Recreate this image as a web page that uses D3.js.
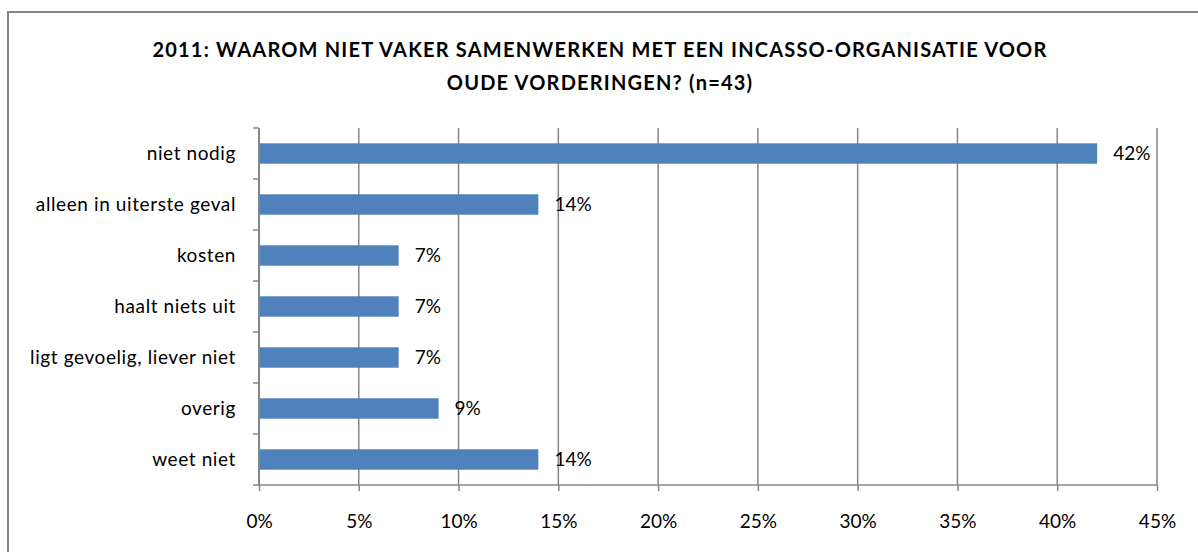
<!DOCTYPE html>
<html lang="en">
<head>
  <meta charset="UTF-8">
  <title>2011: Waarom niet vaker samenwerken</title>
  <style>
    * { margin: 0; padding: 0; box-sizing: border-box; }
    body { background: #fff; font-family: Lato, "Open Sans", sans-serif; }
  </style>
</head>
<body>
  <div id="chart"></div>
  <script src="https://d3js.org/d3.v7.min.js"></script>
  <script>
  // data
  var categories = ["niet nodig", "alleen in uiterste geval", "kosten", "haalt niets uit",
                    "ligt gevoelig, liever niet", "overig", "weet niet"];
  var values = [42, 14, 7, 7, 7, 9, 14];
  var xTicks = [0, 5, 10, 15, 20, 25, 30, 35, 40, 45];
  var titleLines = ["2011: WAAROM NIET VAKER SAMENWERKEN MET EEN INCASSO-ORGANISATIE VOOR",
                    "OUDE VORDERINGEN? (n=43)"];

  var W = 1198, H = 552;
  var margin = {top: 128, left: 259, right: W - 1157, bottom: H - 485};
  var width = W - margin.left - margin.right;
  var height = H - margin.top - margin.bottom;

  var svg = d3.select("#chart").append("svg")
    .attr("width", W).attr("height", H);

  // outer frame (runs off the right and bottom edge)
  svg.append("rect")
    .attr("x", 8).attr("y", 12)
    .attr("width", W + 20).attr("height", H + 20)
    .attr("fill", "none").attr("stroke", "#868686").attr("stroke-width", 2);

  // title
  svg.append("text")
    .attr("text-anchor", "middle")
    .style("font-size", "20px").style("font-weight", "bold").style("fill", "#000")
    .style("letter-spacing", "1.2px")
    .selectAll("tspan").data(titleLines).enter().append("tspan")
      .attr("x", 600).attr("y", function(d, i) { return 57 + i * 33; })
      .text(function(d) { return d; });

  var g = svg.append("g").attr("transform", "translate(" + margin.left + "," + margin.top + ")");

  var x = d3.scaleLinear().domain([0, 45]).range([0, width]);
  var y = d3.scaleBand().domain(categories).range([0, height]).paddingInner(0.6).paddingOuter(0.3);

  // gridlines
  g.selectAll("line.grid").data(xTicks.slice(1)).enter().append("line")
    .attr("class", "grid")
    .attr("x1", function(d) { return x(d); }).attr("x2", function(d) { return x(d); })
    .attr("y1", 0).attr("y2", height)
    .attr("stroke", "#868686").attr("stroke-width", 1.5);

  // bars
  g.selectAll("rect.bar").data(values).enter().append("rect")
    .attr("class", "bar")
    .attr("x", x(0))
    .attr("y", function(d, i) { return y(categories[i]); })
    .attr("width", function(d) { return x(d) - x(0); })
    .attr("height", y.bandwidth())
    .attr("fill", "#4f81bd");

  // value labels
  g.selectAll("text.val").data(values).enter().append("text")
    .attr("class", "val")
    .attr("x", function(d) { return x(d) + 16; })
    .attr("y", function(d, i) { return y(categories[i]) + y.bandwidth() / 2; })
    .attr("dy", "0.35em")
    .style("font-size", "19px").style("fill", "#000")
    .text(function(d) { return d + "%"; });

  // x axis
  var xAxis = g.append("g").attr("transform", "translate(0," + height + ")")
    .call(d3.axisBottom(x).tickValues(xTicks).tickSize(6).tickPadding(24)
      .tickFormat(function(d) { return d + "%"; }));
  xAxis.select(".domain").attr("stroke", "#868686").attr("stroke-width", 1.5).attr("d", "M0,0H" + width);
  xAxis.selectAll(".tick line").attr("stroke", "#868686").attr("stroke-width", 1.5);
  xAxis.selectAll("text").style("font-size", "19px").style("font-family", "Lato, sans-serif").attr("fill", "#000");

  // y axis: ticks between categories like Excel
  var yAxis = g.append("g");
  yAxis.append("line").attr("x1", 0).attr("x2", 0).attr("y1", 0).attr("y2", height)
    .attr("stroke", "#868686").attr("stroke-width", 2);
  var bounds = d3.range(categories.length + 1).map(function(i) { return i * height / categories.length; });
  yAxis.selectAll("line.tk").data(bounds).enter().append("line")
    .attr("class", "tk")
    .attr("x1", -6).attr("x2", 0)
    .attr("y1", function(d) { return d; }).attr("y2", function(d) { return d; })
    .attr("stroke", "#868686").attr("stroke-width", 1.5);
  yAxis.selectAll("text").data(categories).enter().append("text")
    .attr("x", -23)
    .attr("y", function(d) { return y(d) + y.bandwidth() / 2; })
    .attr("dy", "0.35em")
    .attr("text-anchor", "end")
    .style("font-size", "19px").style("letter-spacing", "0.6px").style("fill", "#000")
    .text(function(d) { return d; });
  </script>
</body>
</html>
